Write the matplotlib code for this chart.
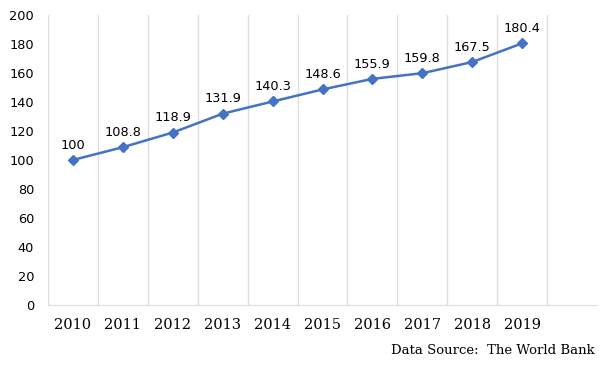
import matplotlib
matplotlib.use("Agg")
import matplotlib.pyplot as plt

years = ["2010", "2011", "2012", "2013", "2014", "2015", "2016", "2017", "2018", "2019"]
values = [100, 108.8, 118.9, 131.9, 140.3, 148.6, 155.9, 159.8, 167.5, 180.4]
labels = ["100", "108.8", "118.9", "131.9", "140.3", "148.6", "155.9", "159.8", "167.5", "180.4"]
yticks = [0, 20, 40, 60, 80, 100, 120, 140, 160, 180, 200]
source = "Data Source:  The World Bank"

fig = plt.figure(figsize=(6, 3.72), dpi=100)
ax = fig.add_axes([0.08, 0.18, 0.915, 0.78])
x = list(range(len(years)))
ax.plot(x, values, color="#4472C4", lw=1.8, marker="D", ms=4.8, mec="#4472C4", mfc="#4472C4", zorder=3)
for xi, v, lab in zip(x, values, labels):
    ax.annotate(lab, (xi, v), xytext=(0, 6), textcoords="offset points", ha="center", va="bottom",
                fontsize=9.3, family="DejaVu Sans", color="black")

ax.set_xlim(-0.5, len(years) + 0.5)
ax.set_ylim(0, 200)
ax.set_yticks(yticks)
ax.set_yticklabels([str(t) for t in yticks], fontsize=9.3, family="DejaVu Sans")
ax.set_xticks(x)
ax.set_xticklabels(years, fontsize=10.5, family="DejaVu Serif")
for b in range(len(years) + 1):
    ax.axvline(b - 0.5, color="#DEDEDE", lw=1, zorder=1)
for s in ["top", "right", "left"]:
    ax.spines[s].set_visible(False)
ax.spines["bottom"].set_color("#DEDEDE")
ax.tick_params(axis="both", length=0)
ax.tick_params(axis="x", pad=9)
ax.tick_params(axis="y", pad=10)
fig.text(0.992, 0.04, source, ha="right", va="bottom", fontsize=9.5, family="DejaVu Serif")
fig.savefig("out.png", dpi=100)
